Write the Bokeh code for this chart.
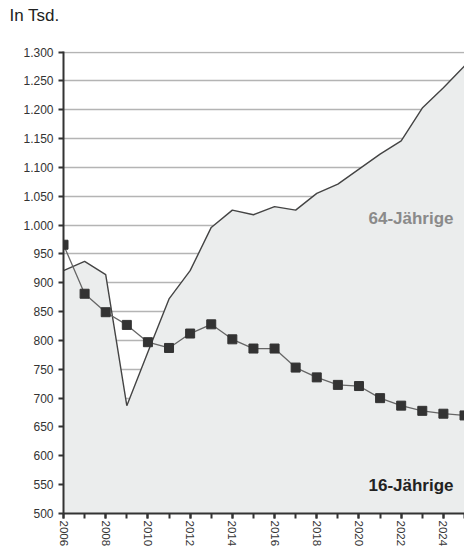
from bokeh.plotting import figure
from bokeh.models import FixedTicker, Label, Range1d, ColumnDataSource, Title
from bokeh.embed import file_html
from bokeh.resources import INLINE

# ---- data ----
years = list(range(2006, 2026))
age64 = [921, 937, 914, 687, 780, 872, 921, 996, 1026, 1018, 1032, 1026,
         1055, 1071, 1097, 1123, 1146, 1203, 1238, 1276]
age16 = [966, 881, 849, 827, 797, 787, 812, 828, 802, 786, 786, 753,
         736, 723, 721, 700, 687, 678, 673, 670]
y_ticks = list(range(500, 1301, 50))
x_major = list(range(2006, 2025, 2))
x_minor = list(range(2006, 2026))
series_names = ["64-Jährige", "16-Jährige"]
title_text = "In Tsd."

FONT = "Liberation Sans"

src = ColumnDataSource(dict(year=years, a64=age64, a16=age16,
                            base=[0] * len(years)))

p = figure(width=464, height=549, output_backend="svg", toolbar_location=None,
           x_range=Range1d(2006, 2025.0), y_range=Range1d(500, 1301),
           min_border_left=63, min_border_right=0, min_border_top=51,
           background_fill_color="white", border_fill_color="white")
p.outline_line_color = None

# invisible spacer between the title and the plot frame
p.add_layout(Title(text=" ", text_font_size="1px", standoff=22), "above")

# title
p.title.text = title_text
p.title.align = "left"
p.title.offset = -54
p.title.text_font = FONT
p.title.text_font_style = "normal"
p.title.text_font_size = "17px"
p.title.text_color = "#222222"
p.title.standoff = 4

# grid
p.xgrid.grid_line_color = None
p.ygrid.ticker = FixedTicker(ticks=y_ticks)
p.ygrid.grid_line_color = "#b4b4b4"
p.ygrid.grid_line_width = 1.5

# area for 64-year-olds
p.varea(x="year", y1="base", y2="a64", source=src, fill_color="#ebeded")
p.line(x="year", y="a64", source=src, line_color="#444444", line_width=1.4)

# line + markers for 16-year-olds
p.line(x="year", y="a16", source=src, line_color="#666666", line_width=1.3)
p.scatter(x="year", y="a16", source=src, marker="square", size=9,
          fill_color="#333333", line_color="#333333")

# axes
xa = p.xaxis[0]
xa.ticker = FixedTicker(ticks=x_major, minor_ticks=x_minor)
xa.major_label_orientation = "vertical"
xa.major_label_text_font = FONT
xa.major_label_text_font_size = "11.5px"
xa.major_label_text_color = "#333333"
xa.major_label_standoff = 2
xa.axis_line_color = "#333333"
xa.axis_line_width = 2
xa.major_tick_line_color = "#333333"
xa.major_tick_line_width = 2
xa.major_tick_out = 5
xa.major_tick_in = 0
xa.minor_tick_line_color = "#333333"
xa.minor_tick_line_width = 2
xa.minor_tick_out = 5
xa.minor_tick_in = 0

ya = p.yaxis[0]
ya.ticker = FixedTicker(ticks=y_ticks)
ya.major_label_overrides = {v: f"{v:,}".replace(",", ".") for v in y_ticks}
ya.major_label_text_font = FONT
ya.major_label_text_font_size = "12px"
ya.major_label_text_color = "#333333"
ya.major_label_standoff = 5
ya.axis_line_color = "#333333"
ya.axis_line_width = 2
ya.major_tick_line_color = "#333333"
ya.major_tick_line_width = 2
ya.major_tick_out = 5
ya.major_tick_in = 0
ya.minor_tick_line_color = None

# series labels
p.add_layout(Label(x=2024.48, y=1012, text=series_names[0], text_align="right",
                   text_baseline="middle", text_font=FONT, text_font_style="bold",
                   text_font_size="17px", text_color="#8a8a8a"))
p.add_layout(Label(x=2024.48, y=548, text=series_names[1], text_align="right",
                   text_baseline="middle", text_font=FONT, text_font_style="bold",
                   text_font_size="17px", text_color="#222222"))

open("out.html", "w").write(file_html(p, INLINE))
